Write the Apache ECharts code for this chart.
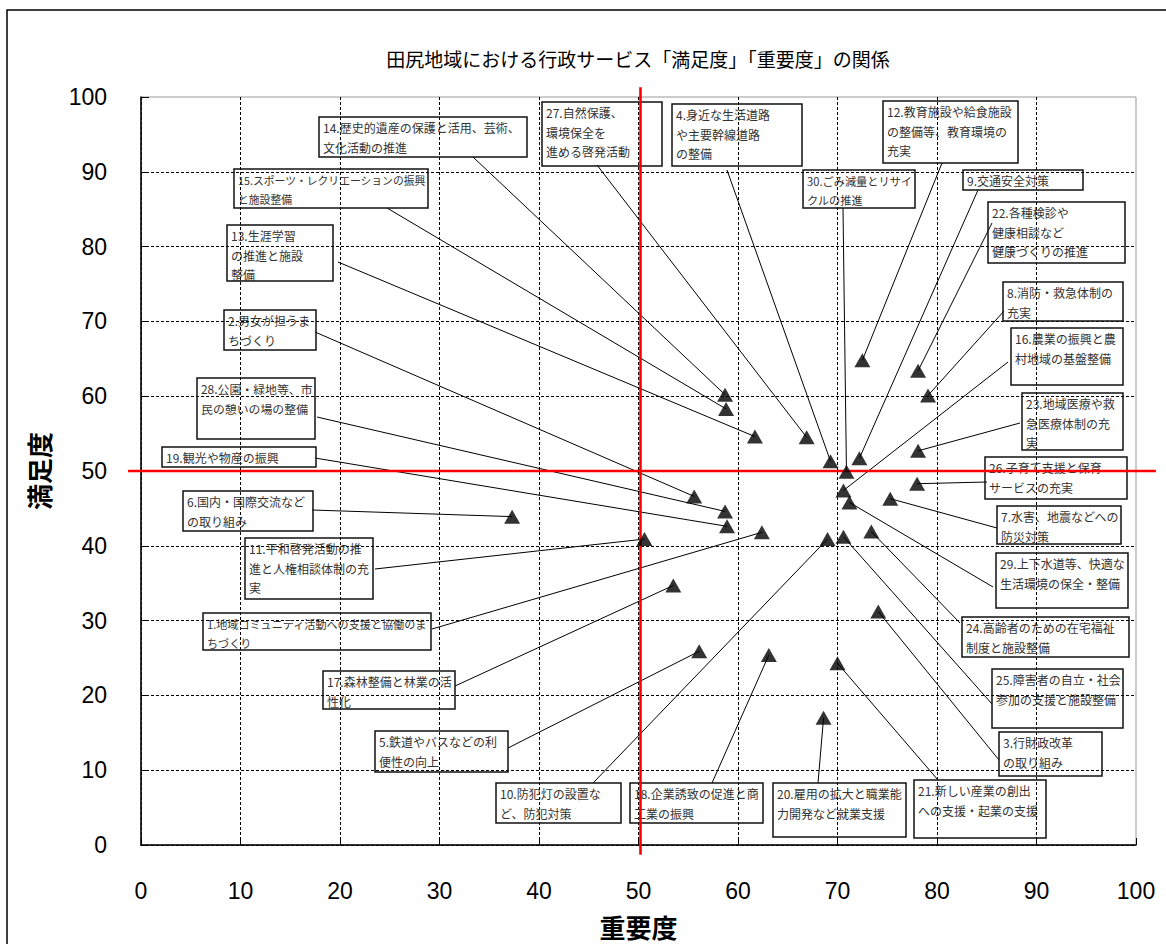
<!DOCTYPE html>
<html><head><meta charset="utf-8">
<script src="https://cdn.jsdelivr.net/npm/echarts/dist/echarts.min.js"></script>
<style>html,body{margin:0;padding:0;background:#fff}#c{width:1166px;height:944px}</style>
</head><body><div id="c"></div>
<script>
// ---- data ----
const chartTitle = '田尻地域における行政サービス「満足度」「重要度」の関係';
const xAxisName = '重要度';
const yAxisName = '満足度';
const itemLabels = [
  ['1.地域コミュニティ活動への支援と協働のま', 'ちづくり'],
  ['2.男女が担うま', 'ちづくり'],
  ['3.行財政改革', 'の取り組み'],
  ['4.身近な生活道路', 'や主要幹線道路', 'の整備'],
  ['5.鉄道やバスなどの利', '便性の向上'],
  ['6.国内・国際交流など', 'の取り組み'],
  ['7.水害、地震などへの', '防災対策'],
  ['8.消防・救急体制の', '充実'],
  ['9.交通安全対策'],
  ['10.防犯灯の設置な', 'ど、防犯対策'],
  ['11.平和啓発活動の推', '進と人権相談体制の充', '実'],
  ['12.教育施設や給食施設', 'の整備等、教育環境の', '充実'],
  ['13.生涯学習', 'の推進と施設', '整備'],
  ['14.歴史的遺産の保護と活用、芸術、', '文化活動の推進'],
  ['15.スポーツ・レクリエーションの振興', 'と施設整備'],
  ['16.農業の振興と農', '村地域の基盤整備'],
  ['17.森林整備と林業の活', '性化'],
  ['18.企業誘致の促進と商', '工業の振興'],
  ['19.観光や物産の振興'],
  ['20.雇用の拡大と職業能', '力開発など就業支援'],
  ['21.新しい産業の創出', 'への支援・起業の支援'],
  ['22.各種検診や', '健康相談など', '健康づくりの推進'],
  ['23.地域医療や救', '急医療体制の充', '実'],
  ['24.高齢者のための在宅福祉', '制度と施設整備'],
  ['25.障害者の自立・社会', '参加の支援と施設整備'],
  ['26.子育て支援と保育', 'サービスの充実'],
  ['27.自然保護、', '環境保全を', '進める啓発活動'],
  ['28.公園・緑地等、市', '民の憩いの場の整備'],
  ['29.上下水道等、快適な', '生活環境の保全・整備'],
  ['30.ごみ減量とリサイ', 'クルの推進']
];
const importance   = [62.4, 55.6, 74.1, 69.3, 56.1, 37.3, 75.3, 79.1, 72.2, 69.0,
                      50.6, 72.5, 61.7, 58.7, 58.8, 70.6, 53.5, 63.1, 58.9, 68.6,
                      70.0, 78.1, 78.1, 73.4, 70.6, 78.0, 66.9, 58.7, 71.2, 70.9];
const satisfaction = [41.8, 46.6, 31.2, 51.3, 25.9, 43.9, 46.3, 60.1, 51.7, 40.9,
                      40.9, 64.8, 54.6, 60.2, 58.3, 47.4, 34.7, 25.4, 42.6, 17.0,
                      24.3, 63.4, 52.7, 41.9, 41.2, 48.3, 54.5, 44.6, 45.8, 49.9];
const avgImportance = 50.2;
const avgSatisfaction = 50.0;

// ---- annotation layout (pixels): label box [x, y, w, h] and leader start [x, y] ----
const labelBoxes = [
  [203,613,228,37],[224,310,92,40],[999,732,103,44],[672,104,130,62],[375,731,133,41],
  [183,491,130,40],[997,506,124,38],[1003,282,120,39],[963,170,120,20],[496,783,125,40],
  [245,538,128,61],[883,101,135,62],[227,225,106,56],[319,117,208,40],[234,169,194,39],
  [1011,328,112,57],[323,671,132,38],[630,783,133,40],[162,447,154,20],[773,783,133,54],
  [914,780,132,58],[988,202,137,61],[1022,393,101,57],[962,617,167,40],[992,669,131,59],
  [985,457,142,42],[542,102,120,64],[197,378,118,61],[996,553,132,55],[803,170,112,38]
];
const leaderStarts = [
  [432,629],[315,332],[999,760],[727,170],[508,748],
  [312,510],[997,528],[1004,311],[978,190],[593,783],
  [375,569],[942,163],[338,262],[473,157],[387,208],
  [1008,362],[455,686],[712,783],[315,458],[818,783],
  [938,780],[992,223],[1020,423],[960,623],[992,704],
  [987,482],[597,165],[317,417],[993,587],[843,208]
];

const LABEL_FONT = '"Noto Sans CJK JP", sans-serif';
const mctx = document.createElement('canvas').getContext('2d');
function fitSize(lines, maxW) {
  const s = 12;
  mctx.font = s + 'px ' + LABEL_FONT;
  const w = Math.max.apply(null, lines.map(l => mctx.measureText(l).width));
  return w > maxW ? Math.floor(s * maxW / w * 10) / 10 : s;
}

const points = importance.map((x, i) => [x, satisfaction[i]]);

const chart = echarts.init(document.getElementById('c'), null, {renderer: 'svg'});
chart.setOption({
  backgroundColor: '#fff',
  animation: false,
  graphic: [
    {type: 'rect', z: 0, shape: {x: 7, y: 10, width: 1175, height: 955},
     style: {fill: 'none', stroke: '#000', lineWidth: 1.5}},
    {type: 'text', x: 638, y: 58, z: 10,
     style: {text: chartTitle, font: '19px "Noto Sans CJK JP", sans-serif', fill: '#000',
             align: 'center', verticalAlign: 'middle'}}
  ],
  grid: {left: 141, right: 30, top: 97, bottom: 97, show: true, borderColor: '#999', borderWidth: 1},
  xAxis: {
    type: 'value', min: 0, max: 100, interval: 10,
    name: xAxisName, nameLocation: 'middle', nameGap: 68,
    nameTextStyle: {fontSize: 26, color: '#000', fontFamily: '"Noto Sans CJK JP", sans-serif', fontWeight: 'bold'},
    axisLine: {lineStyle: {color: '#000', width: 1.5}},
    axisTick: {show: true, inside: true, length: 7, lineStyle: {color: '#000'}},
    axisLabel: {fontSize: 23, color: '#000', margin: 34, fontFamily: '"Liberation Sans", Arial, sans-serif'},
    splitLine: {show: true, showMaxLine: false, lineStyle: {color: '#000', type: [3, 2], width: 1}}
  },
  yAxis: {
    type: 'value', min: 0, max: 100, interval: 10,
    name: yAxisName, nameLocation: 'middle', nameGap: 90,
    nameTextStyle: {fontSize: 26, color: '#000', fontFamily: '"Noto Sans CJK JP", sans-serif', fontWeight: 'bold'},
    axisLine: {lineStyle: {color: '#000', width: 1.5}},
    axisTick: {show: true, inside: true, length: 8, lineStyle: {color: '#000'}},
    axisLabel: {fontSize: 23, color: '#000', margin: 34, fontFamily: '"Liberation Sans", Arial, sans-serif'},
    splitLine: {show: true, showMaxLine: false, lineStyle: {color: '#000', type: [3, 2], width: 1}}
  },
  series: [
    {
      type: 'custom', name: 'labels', z: 3, clip: false, silent: true,
      data: points,
      renderItem: function (params, api) {
        const i = params.dataIndex;
        const p = api.coord([api.value(0), api.value(1)]);
        const b = labelBoxes[i];
        const a = leaderStarts[i];
        const lines = itemLabels[i];
        const fs = fitSize(lines, b[2] - 6);
        const children = [
          {type: 'line', shape: {x1: a[0], y1: a[1], x2: p[0], y2: p[1]},
           style: {stroke: '#000', lineWidth: 1}},
          {type: 'rect', shape: {x: b[0], y: b[1], width: b[2], height: b[3]},
           style: {fill: 'none', stroke: '#111', lineWidth: 1.5}}
        ];
        lines.forEach(function (t, k) {
          children.push({type: 'text', x: b[0] + 4, y: b[1] + 10.5 + k * 19.5,
            style: {text: t, font: fs + 'px ' + LABEL_FONT, fill: '#333', verticalAlign: 'middle', align: 'left'}});
        });
        return {type: 'group', children: children};
      }
    },
    {
      type: 'custom', name: 'average', z: 4, clip: false, silent: true,
      data: [[avgImportance, avgSatisfaction]],
      renderItem: function (params, api) {
        const vx = api.value(0), vy = api.value(1);
        const h1 = api.coord([-1.3, vy]), h2 = api.coord([102, vy]);
        const v1 = api.coord([vx, -1.3]), v2 = api.coord([vx, 101.3]);
        return {type: 'group', children: [
          {type: 'line', shape: {x1: h1[0], y1: h1[1], x2: h2[0], y2: h2[1]}, style: {stroke: '#ff0000', lineWidth: 2.6}},
          {type: 'line', shape: {x1: v1[0], y1: v1[1], x2: v2[0], y2: v2[1]}, style: {stroke: '#ff0000', lineWidth: 2.6}}
        ]};
      }
    },
    {
      type: 'scatter', name: 'items', z: 5,
      symbol: 'triangle', symbolSize: [16, 14],
      itemStyle: {color: '#000'},
      data: points
    }
  ]
});
</script>
</body></html>
